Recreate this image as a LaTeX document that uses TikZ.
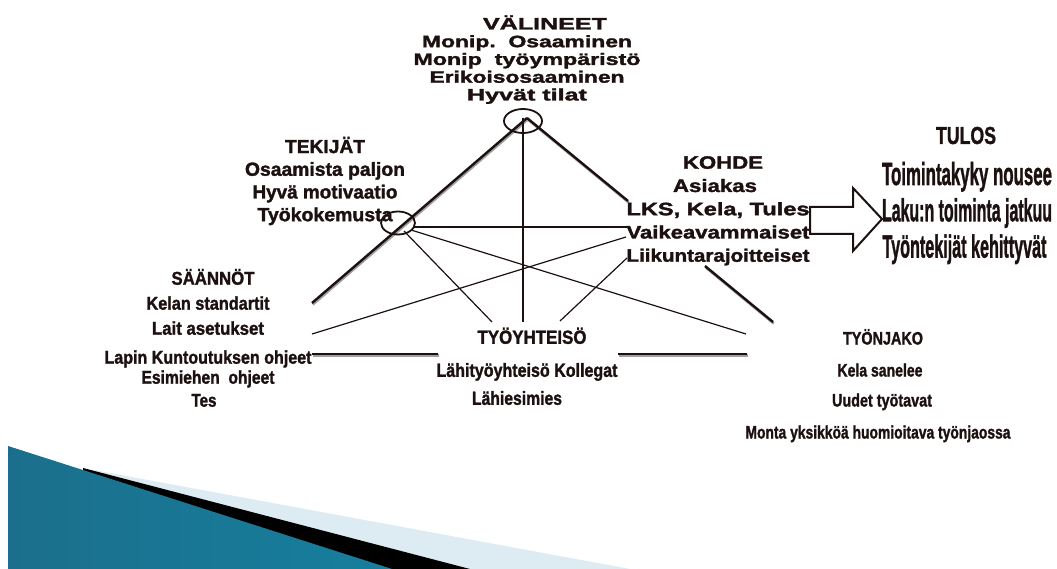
\documentclass[tikz,border=0pt]{standalone}
\usepackage{fontspec}
\setmainfont[BoldFeatures={FakeBold=1.6}]{Liberation Sans}
\usepackage{graphicx}
\usetikzlibrary{shapes.geometric}

\definecolor{ink}{HTML}{1C1010}
\definecolor{tealdark}{HTML}{1B6F8C}
\definecolor{teallight}{HTML}{5DB9D9}
\definecolor{tealend}{HTML}{167F9D}
\definecolor{paleblue}{HTML}{DCECF2}
\definecolor{shadowgray}{HTML}{A0A0A0}

% stretch a line of text to a given width, keeping its height
\newcommand{\fw}[2]{\resizebox{#1pt}{\height}{#2}}
% same, with no height of its own (rows then follow the strut)
\newcommand{\fl}[2]{\smash{\fw{#1}{#2}}}

\tikzset{
  block/.style={inner sep=0pt, text=ink, font=\bfseries},
  thinline/.style={draw=ink, line width=1.2pt},
  thickline/.style={draw=ink, line width=2.4pt},
  thickshade/.style={draw=shadowgray, line width=2.4pt},
  ring/.style={draw=ink, line width=1.8pt, ellipse, inner sep=0pt},
  bigarrow/.style={draw=ink, fill=white, line width=2pt, line join=miter},
}

\begin{document}
\begin{tikzpicture}[x=1pt,y=-1pt]
\useasboundingbox (0,0) rectangle (1057,569);

% corner ornament
\fill[paleblue] (83,468) -- (630,569) -- (83,569) -- cycle;
\fill[black] (83,468) -- (470,569) -- (83,569) -- cycle;
\shade[left color=tealdark, middle color=teallight, right color=tealend]
  (8,446) -- (392,569) -- (8,569) -- cycle;

% anchor points of the connectors
\coordinate (apex) at (527,118);
\coordinate (leftfoot) at (312,303);
\coordinate (rightA) at (628,201);
\coordinate (rightB) at (705,266);
\coordinate (rightfoot) at (773,322);
\coordinate (baseA) at (312,354);
\coordinate (baseB) at (438,354);
\coordinate (baseC) at (618,354);
\coordinate (baseD) at (747,354);
\coordinate (vtop) at (523,118);
\coordinate (vbot) at (523,322);
\coordinate (hstart) at (413,227);
\coordinate (hend) at (627,227);
\coordinate (tk1) at (404,231);
\coordinate (yh1) at (492,322);
\coordinate (tk2) at (411,230);
\coordinate (tj1) at (746,334);
\coordinate (sa1) at (312,334);
\coordinate (ko1) at (626,237);
\coordinate (ko2) at (627,258);
\coordinate (yh2) at (560,321);

% thick frame with its grey shade
\begin{scope}[transform canvas={shift={(0.8,1.6)}}]
  \draw[thickshade] (apex) -- (leftfoot);
  \draw[thickshade] (apex) -- (rightA);
  \draw[thickshade] (rightB) -- (rightfoot);
  \draw[thickshade] (baseA) -- (baseB);
  \draw[thickshade] (baseC) -- (baseD);
\end{scope}
\draw[thickline] (apex) -- (leftfoot);
\draw[thickline] (apex) -- (rightA);
\draw[thickline] (rightB) -- (rightfoot);
\draw[thickline] (baseA) -- (baseB);
\draw[thickline] (baseC) -- (baseD);

% thin links
\draw[thinline] (vtop) -- (vbot);
\draw[thinline] (hstart) -- (hend);
\draw[thinline] (tk1) -- (yh1);
\draw[thinline] (tk2) -- (tj1);
\draw[thinline] (sa1) -- (ko1);
\draw[thinline] (ko2) -- (yh2);

% rings at the corners
\node[ring, minimum width=38pt, minimum height=24pt] (vring) at (523,121) {};
\node[ring, minimum width=34pt, minimum height=23pt] (tring) at (398,223) {};

% block arrow towards the result
\draw[bigarrow] (810,207) -- (853,207) -- (853,188) -- (882,219)
  -- (853,251) -- (853,234) -- (810,234) -- cycle;

% texts
\node[block] (valineet) at (527,61.4) {\fontsize{16.5}{17.75}\selectfont
  \begin{tabular}{@{}c@{}}
  \hspace*{36pt}\fl{124}{VÄLINEET}\\
  \fl{210}{Monip.\ \ Osaaminen}\\
  \fl{227}{Monip\ \ työympäristö}\\
  \fl{195}{Erikoisosaaminen}\\
  \fl{120}{Hyvät tilat}
  \end{tabular}};

\node[block] (tekijat) at (325,182.6) {\fontsize{19}{22.7}\selectfont
  \begin{tabular}{@{}c@{}}
  \fl{80}{TEKIJÄT}\\
  \fl{160}{Osaamista paljon}\\
  \fl{145}{Hyvä motivaatio}\\
  \fl{135}{Työkokemusta}
  \end{tabular}};

\node[block] (kohde) at (718,210.6) {\fontsize{18}{23.25}\selectfont
  \begin{tabular}{@{}c@{}}
  \hspace*{10pt}\fl{80}{KOHDE}\\
  \fl{84}{Asiakas}\hspace*{6pt}\\
  \fl{183}{LKS, Kela, Tules}\\
  \fl{183}{Vaikeavammaiset}\\
  \fl{183}{Liikuntarajoitteiset}
  \end{tabular}};

\node[block] (tulos) at (966,135.5) {\fontsize{24.5}{28}\selectfont\fw{60}{TULOS}};

\node[block] (tulokset) at (967,214) {\fontsize{32}{36.25}\selectfont
  \begin{tabular}{@{}c@{}}
  \fl{170}{Toimintakyky nousee}\\
  \fl{170}{Laku:n toiminta jatkuu}\\
  \fl{164}{Työntekijät kehittyvät}\hspace*{5pt}
  \end{tabular}};

\node[block] (saannot) at (208,340.9) {\fontsize{18.5}{24}\selectfont
  \begin{tabular}{@{}c@{}}
  \hspace*{10pt}\fl{83}{SÄÄNNÖT}\\[1pt]
  \fl{123}{Kelan standartit}\\[1pt]
  \fl{112}{Lait asetukset}\\[5pt]
  \fl{207}{Lapin Kuntoutuksen ohjeet}\\[-4pt]
  \fl{133}{Esimiehen\ \ ohjeet}\\[-1pt]
  \fl{25}{Tes}\hspace*{8pt}
  \end{tabular}};

\node[block] (tyoyhteiso) at (527,368.7) {\fontsize{19}{28}\selectfont
  \begin{tabular}{@{}c@{}}
  \hspace*{10pt}\fl{109}{TYÖYHTEISÖ}\\[5pt]
  \fl{181}{Lähityöyhteisö Kollegat}\\
  \fl{90}{Lähiesimies}\hspace*{20pt}
  \end{tabular}};

\node[block] (tyonjako) at (880,385.3) {\fontsize{18}{31}\selectfont
  \begin{tabular}{@{}c@{}}
  \hspace*{6pt}\fl{80}{TYÖNJAKO}\\[1pt]
  \fl{85}{Kela sanelee}\\[-1pt]
  \hspace*{4pt}\fl{100}{Uudet työtavat}\\[1pt]
  \fl{265}{Monta yksikköä huomioitava työnjaossa}\hspace*{4pt}
  \end{tabular}};
\end{tikzpicture}
\end{document}
